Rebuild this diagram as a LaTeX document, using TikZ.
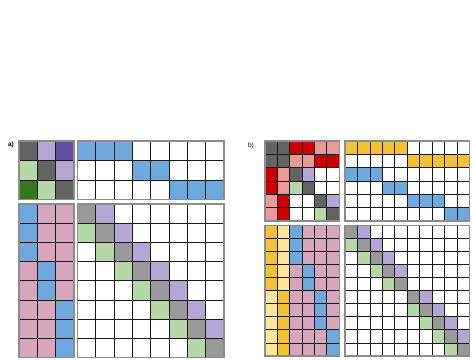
\documentclass[tikz,border=0pt]{standalone}
\usepackage{fontspec}
\setmainfont{Liberation Sans}

\definecolor{dgr}{HTML}{636363}
\definecolor{mgr}{HTML}{999999}
\definecolor{lpu}{HTML}{B4A7D6}
\definecolor{dpu}{HTML}{674EA7}
\definecolor{lgr}{HTML}{B6D7A8}
\definecolor{dgn}{HTML}{38761D}
\definecolor{blu}{HTML}{6FA8DC}
\definecolor{pnk}{HTML}{D5A6BD}
\definecolor{rdd}{HTML}{CC0000}
\definecolor{lrd}{HTML}{EA9999}
\definecolor{ylw}{HTML}{F1C232}
\definecolor{lyl}{HTML}{FFE599}
\colorlet{wht}{white}

\tikzset{
  cell/.style={draw=black!90, line width=0.7pt},
  frame/.style={draw=black!45, line width=1.4pt},
  tag/.style={font=\fontsize{6.5}{7}\selectfont, inner sep=0pt}
}

\begin{document}
\begin{tikzpicture}[x=1pt, y=-1pt]
  \useasboundingbox (0,0) rectangle (474,361);
  % a)
  \node[tag, font=\fontsize{6.5}{7}\selectfont\bfseries] (lbla) at (11,145) {a)};
  \begin{scope}[shift={(19,141)}, x=18.3pt, y=-19.5pt]
    \foreach \row [count=\i] in {{dgr,lpu,dpu},{lgr,dgr,lpu},{dgn,lgr,dgr}} {
      \foreach \c [count=\j] in \row
        \draw[cell, fill=\c] (\j-1,\i-1) rectangle (\j,\i);
    }
    \draw[frame] (0,0) rectangle (3,3);
  \end{scope}
  \begin{scope}[shift={(77.5,141)}, x=18.3pt, y=-19.5pt]
    \foreach \row [count=\i] in {{blu,blu,blu,wht,wht,wht,wht,wht},
                                 {wht,wht,wht,blu,blu,wht,wht,wht},
                                 {wht,wht,wht,wht,wht,blu,blu,blu}} {
      \foreach \c [count=\j] in \row
        \draw[cell, fill=\c] (\j-1,\i-1) rectangle (\j,\i);
    }
    \draw[frame] (0,0) rectangle (8,3);
  \end{scope}
  \begin{scope}[shift={(19,204)}, x=18.3pt, y=-19.2pt]
    \foreach \row [count=\i] in {{blu,pnk,pnk},{blu,pnk,pnk},{blu,pnk,pnk},
                                 {pnk,blu,pnk},{pnk,blu,pnk},
                                 {pnk,pnk,blu},{pnk,pnk,blu},{pnk,pnk,blu}} {
      \foreach \c [count=\j] in \row
        \draw[cell, fill=\c] (\j-1,\i-1) rectangle (\j,\i);
    }
    \draw[frame] (0,0) rectangle (3,8);
  \end{scope}
  \begin{scope}[shift={(77.5,204)}, x=18.3pt, y=-19.2pt]
    \foreach \i in {1,...,8}
      \foreach \j in {1,...,8}
        \draw[cell, fill=white] (\j-1,\i-1) rectangle (\j,\i);
    \foreach \i in {1,...,8}
      \draw[cell, fill=mgr] (\i-1,\i-1) rectangle (\i,\i);
    \foreach \i in {1,...,7} {
      \draw[cell, fill=lpu] (\i,\i-1) rectangle (\i+1,\i);
      \draw[cell, fill=lgr] (\i-1,\i) rectangle (\i,\i+1);
    }
    \draw[frame] (0,0) rectangle (8,8);
  \end{scope}
  % b)
  \node[tag] (lblb) at (251,146) {b)};
  \begin{scope}[shift={(264.8,141)}, x=12.4pt, y=-13.3pt]
    \foreach \row [count=\i] in {{dgr,dgr,rdd,rdd,lrd,lrd},
                                 {dgr,dgr,lrd,lrd,rdd,rdd},
                                 {rdd,lrd,dgr,lpu,wht,wht},
                                 {rdd,lrd,lgr,dgr,wht,wht},
                                 {lrd,rdd,wht,wht,dgr,lpu},
                                 {lrd,rdd,wht,wht,lgr,dgr}} {
      \foreach \c [count=\j] in \row
        \draw[cell, fill=\c] (\j-1,\i-1) rectangle (\j,\i);
    }
    \draw[frame] (0,0) rectangle (6,6);
  \end{scope}
  \begin{scope}[shift={(345,141)}, x=12.43pt, y=-13.3pt]
    \foreach \row [count=\i] in {{ylw,ylw,ylw,ylw,ylw,wht,wht,wht,wht,wht},
                                 {wht,wht,wht,wht,wht,ylw,ylw,ylw,ylw,ylw},
                                 {blu,blu,blu,wht,wht,wht,wht,wht,wht,wht},
                                 {wht,wht,wht,blu,blu,wht,wht,wht,wht,wht},
                                 {wht,wht,wht,wht,wht,blu,blu,blu,wht,wht},
                                 {wht,wht,wht,wht,wht,wht,wht,wht,blu,blu}} {
      \foreach \c [count=\j] in \row
        \draw[cell, fill=\c] (\j-1,\i-1) rectangle (\j,\i);
    }
    \draw[frame] (0,0) rectangle (10,6);
  \end{scope}
  \begin{scope}[shift={(264.8,225.2)}, x=12.4pt, y=-13.08pt]
    \foreach \row [count=\i] in {{ylw,lyl,blu,pnk,pnk,pnk},{ylw,lyl,blu,pnk,pnk,pnk},
                                 {ylw,lyl,blu,pnk,pnk,pnk},{ylw,lyl,pnk,blu,pnk,pnk},
                                 {ylw,lyl,pnk,blu,pnk,pnk},{lyl,ylw,pnk,pnk,blu,pnk},
                                 {lyl,ylw,pnk,pnk,blu,pnk},{lyl,ylw,pnk,pnk,blu,pnk},
                                 {lyl,ylw,pnk,pnk,pnk,blu},{lyl,ylw,pnk,pnk,pnk,blu}} {
      \foreach \c [count=\j] in \row
        \draw[cell, fill=\c] (\j-1,\i-1) rectangle (\j,\i);
    }
    \draw[frame] (0,0) rectangle (6,10);
  \end{scope}
  \begin{scope}[shift={(345,225.2)}, x=12.43pt, y=-13.08pt]
    \foreach \i in {1,...,10}
      \foreach \j in {1,...,10}
        \draw[cell, fill=white] (\j-1,\i-1) rectangle (\j,\i);
    \foreach \k in {0,5} {
      \foreach \i in {1,...,5}
        \draw[cell, fill=mgr] (\k+\i-1,\k+\i-1) rectangle (\k+\i,\k+\i);
      \foreach \i in {1,...,4} {
        \draw[cell, fill=lpu] (\k+\i,\k+\i-1) rectangle (\k+\i+1,\k+\i);
        \draw[cell, fill=lgr] (\k+\i-1,\k+\i) rectangle (\k+\i,\k+\i+1);
      }
    }
    \draw[frame] (0,0) rectangle (10,10);
  \end{scope}
\end{tikzpicture}
\end{document}
